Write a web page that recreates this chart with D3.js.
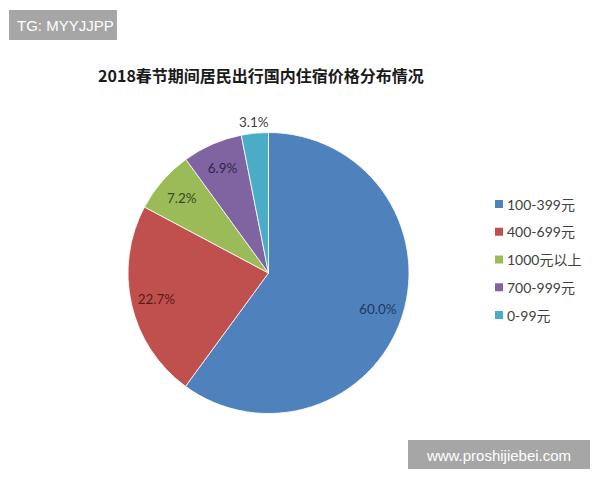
<!DOCTYPE html>
<html><head><meta charset="utf-8">
<script src="https://cdn.jsdelivr.net/npm/d3@7"></script>
<style>body{margin:0;background:#fff}svg{display:block}</style>
</head><body>
<svg id="c" width="600" height="480"></svg>
<script>
const categories = ["100-399元","400-699元","1000元以上","700-999元","0-99元"];
const values = [60.0, 22.7, 7.2, 6.9, 3.1];
const labels = ["60.0%","22.7%","7.2%","6.9%","3.1%"];
const colors = ["#4f81bd","#c0504d","#9bbb59","#8064a2","#4bacc6"];
const labelColors = ["#1f3864","#5a1b19","#3b4a1e","#33264a","#404040"];
const title = "2018春节期间居民出行国内住宿价格分布情况";

const svg = d3.select("#c");
const cx = 268.5, cy = 273, R = 140.5;

// title
svg.append("text").attr("x", 261).attr("y", 82).attr("text-anchor","middle")
  .attr("font-family","'Noto Sans CJK SC', sans-serif").attr("font-weight","bold")
  .attr("font-size",16).attr("fill","#1a1a1a").text(title);

const pie = d3.pie().sort(null).value(d => d);
const arcs = pie(values);
const arc = d3.arc().innerRadius(0).outerRadius(R);
const g = svg.append("g").attr("transform",`translate(${cx},${cy})`);
g.selectAll("path").data(arcs).join("path")
  .attr("d", arc).attr("fill",(d,i)=>colors[i])
  .attr("stroke","#fff").attr("stroke-width",0.8);

const total = d3.sum(values);
g.selectAll("text.lbl").data(arcs).join("text").attr("class","lbl")
  .each(function(d,i){
    const frac = values[i]/total;
    const r = frac < 0.05 ? 152 : 115;
    const a = (d.startAngle + d.endAngle)/2;
    d3.select(this).attr("x", Math.sin(a)*r).attr("y", -Math.cos(a)*r);
  })
  .attr("text-anchor","middle").attr("dominant-baseline","central")
  .attr("font-family","Lato, 'Open Sans', sans-serif").attr("font-size",13.5)
  .attr("fill",(d,i)=>labelColors[i]).text((d,i)=>labels[i]);

// legend
const leg = svg.append("g");
const ly = d3.scalePoint().domain(categories).range([204, 315]);
categories.forEach((c,i)=>{
  leg.append("rect").attr("x",495).attr("y",ly(c)-4).attr("width",8).attr("height",8).attr("fill",colors[i]);
  leg.append("text").attr("x",507).attr("y",ly(c)).attr("dominant-baseline","central")
    .attr("font-family","Lato, 'Noto Sans CJK SC', sans-serif").attr("font-size",14)
    .attr("fill","#404040").text(c);
});

// watermarks
svg.append("rect").attr("x",9).attr("y",10).attr("width",108).attr("height",30).attr("fill","#a6a6a6");
svg.append("text").attr("x",17).attr("y",25).attr("dominant-baseline","central")
  .attr("font-family","'Liberation Sans', Arial, sans-serif").attr("font-size",15).attr("fill","#fff").text("TG: MYYJJPP");
svg.append("rect").attr("x",408).attr("y",440).attr("width",182).attr("height",29).attr("fill","#a6a6a6");
svg.append("text").attr("x",499).attr("y",455).attr("text-anchor","middle").attr("dominant-baseline","central")
  .attr("font-family","'Liberation Sans', Arial, sans-serif").attr("font-size",15).attr("fill","#fff").text("www.proshijiebei.com");
</script>
</body></html>
